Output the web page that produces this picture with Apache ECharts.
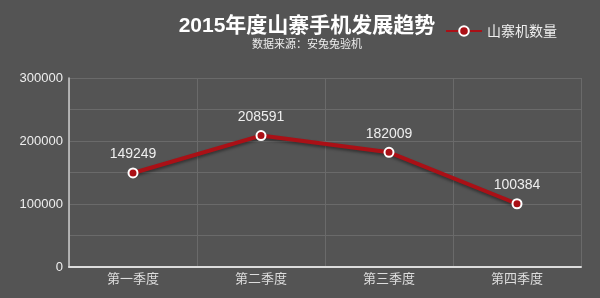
<!DOCTYPE html>
<html><head><meta charset="utf-8">
<script src="https://cdn.jsdelivr.net/npm/echarts@6/dist/echarts.min.js"></script>
<style>html,body{margin:0;padding:0;background:#545454}#c{width:600px;height:298px}</style>
</head><body><div id="c"></div>
<script>
var categories = ['第一季度','第二季度','第三季度','第四季度'];
var values = [149249, 208591, 182009, 100384];
var seriesName = '山寨机数量';
var titleText = '2015年度山寨手机发展趋势';
var subText = '数据来源：安兔兔验机';

var chart = echarts.init(document.getElementById('c'));
chart.setOption({
  backgroundColor: '#545454',
  animation: false,
  title: {
    text: titleText, subtext: subText,
    left: 302, top: 11, textAlign: 'center', itemGap: 1,
    textStyle: {color: '#ffffff', fontSize: 21, fontWeight: 'bold', fontFamily: '"Liberation Sans", "Noto Sans CJK SC"'},
    subtextStyle: {color: '#eeeeee', fontSize: 11, fontFamily: 'Noto Sans CJK SC'}
  },
  legend: {
    data: [seriesName], left: 440, top: 19, itemWidth: 36, itemHeight: 12,
    textStyle: {color: '#eeeeee', fontSize: 14, fontFamily: 'Noto Sans CJK SC'}
  },
  grid: {left: 69, right: 19, top: 78, bottom: 31},
  xAxis: {
    type: 'category', data: categories, boundaryGap: true,
    axisLine: {lineStyle: {color: '#dddddd', width: 2}},
    axisTick: {show: false},
    axisLabel: {color: '#dddddd', fontSize: 13, margin: 5, fontFamily: 'Noto Sans CJK SC'},
    splitLine: {show: true, lineStyle: {color: '#6a6a6a', width: 1}}
  },
  yAxis: {
    type: 'value', min: 0, max: 300000, interval: 50000,
    axisLine: {show: true, lineStyle: {color: '#cccccc', width: 1.5}},
    axisTick: {show: false},
    axisLabel: {color: '#eeeeee', fontSize: 13, margin: 6, fontFamily: '"Liberation Sans"',
      formatter: function(v){ return v % 100000 === 0 ? v : ''; }},
    splitLine: {lineStyle: {color: '#6a6a6a', width: 1}}
  },
  series: [{
    name: seriesName, type: 'line', data: values,
    symbol: 'circle', symbolSize: 9,
    lineStyle: {color: '#aa1016', width: 4, shadowColor: 'rgba(0,0,0,0.4)', shadowBlur: 3, shadowOffsetY: 2},
    itemStyle: {color: '#aa1016', borderColor: '#ffffff', borderWidth: 2},
    label: {show: true, position: 'top', color: '#eeeeee', fontSize: 14, distance: 6, fontFamily: '"Liberation Sans"'}
  }]
});
</script></body></html>
